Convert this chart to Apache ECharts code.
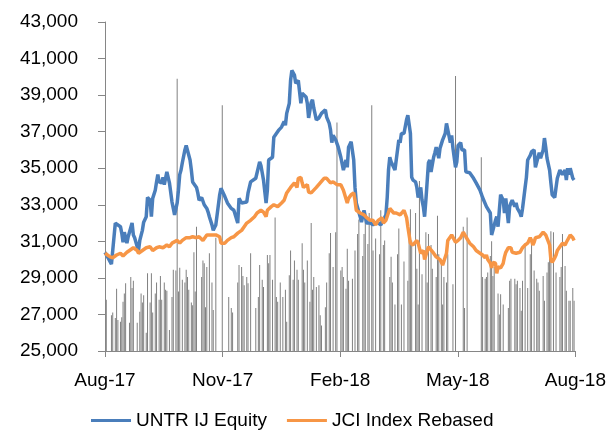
<!DOCTYPE html>
<html lang="en">
<head>
    <meta charset="UTF-8">
    <title>UNTR vs JCI</title>
    <style>
        html, body { margin: 0; padding: 0; background: #fff; }
        #chart { width: 609px; height: 431px; }
    </style>
</head>
<body>
<div id="chart"></div>

<script src="https://cdn.jsdelivr.net/npm/echarts@6/dist/echarts.min.js"></script>
<script>
    // x = days since 1 Aug 2017
    let xTickLabels = ['Aug-17', 'Nov-17', 'Feb-18', 'May-18', 'Aug-18'];

    let untrIJ = [
        [0,30400],[2,30150],[5,29750],[8,32000],[12,31800],[13,31450],[14,30950],[15,31500],[17,30900],[18,31250],
        [21,32000],[22,31350],[23,31200],[25,30700],[26,30500],[27,31050],[29,31600],[30,32050],[31,32150],[32,32350],
        [33,33400],[35,33250],[36,32350],[37,33350],[39,33800],[40,34250],[41,34650],[42,34250],[44,34200],[45,34500],
        [46,34100],[48,34800],[49,34900],[50,34200],[52,33150],[53,32800],[54,32450],[56,33100],[57,33800],[58,34650],
        [59,34900],[60,35300],[62,36000],[63,36250],[66,35450],[67,34900],[68,34250],[69,34350],[71,33950],[72,33650],
        [73,33250],[75,33400],[76,33350],[77,33000],[79,32800],[80,32600],[81,32350],[83,31900],[84,31600],[85,31750],
        [86,31900],[87,31800],[89,33550],[90,33900],[91,33800],[93,33450],[95,33100],[98,32800],[100,32700],[103,32000],
        [104,33350],[106,33100],[110,33150],[111,33650],[113,34250],[117,34450],[118,34500],[120,35350],[121,35150],[122,34750],
        [123,34350],[125,33100],[126,33800],[127,35450],[130,35600],[131,36700],[133,36900],[135,37100],[137,37250],[139,37550],
        [140,37350],[141,38000],[143,38550],[144,39800],[145,40350],[147,40100],[148,39650],[149,39700],[150,39800],[152,38550],
        [153,39100],[154,39150],[156,38900],[157,38550],[158,37750],[160,38600],[161,38750],[162,38300],[164,37650],[166,37750],
        [168,38000],[171,38200],[172,37800],[174,37450],[175,37100],[176,36400],[177,36800],[179,36550],[180,36450],[181,36150],
        [183,35600],[184,35700],[185,34900],[187,35450],[188,35050],[189,36150],[191,36450],[193,35450],[194,33950],[195,33100],
        [198,32350],[199,32050],[201,32700],[202,32350],[203,32000],[206,32000],[208,31900],[211,32050],[214,31900],[216,32150],
        [218,32450],[219,33400],[220,34900],[221,35600],[222,35350],[225,34900],[226,35000],[228,36550],[229,36400],[230,36900],
        [232,36900],[234,37650],[235,37900],[237,36900],[238,34500],[239,34350],[241,34250],[242,33950],[243,33400],[245,33950],
        [246,33250],[247,32900],[248,32350],[249,33250],[251,35300],[252,35450],[253,34800],[255,35600],[256,35850],[257,36150],
        [259,35550],[260,36100],[261,36000],[262,36550],[264,36900],[265,37450],[266,37500],[268,36400],[269,36800],[270,36100],
        [272,35050],[273,35350],[274,36250],[276,36400],[277,36000],[278,35900],[279,36000],[280,34800],[283,34750],[286,34450],
        [288,34200],[291,33800],[293,33400],[296,32900],[297,32800],[299,32550],[300,31350],[301,31600],[303,32150],[304,32350],
        [305,31800],[306,32700],[307,33550],[309,33250],[310,32550],[311,33350],[313,32000],[314,32900],[315,33100],[316,33250],
        [318,32900],[319,33100],[320,32800],[322,32550],[323,32350],[324,32800],[326,33950],[327,34500],[328,35450],[330,35700],
        [331,35900],[332,35850],[333,36000],[334,35050],[336,35600],[337,35850],[338,35550],[340,36000],[341,36650],[342,36150],
        [343,35550],[345,34900],[346,34200],[347,33550],[349,33400],[350,33950],[351,34450],[353,34900],[354,35000],[355,34650],
        [357,34900],[358,34350],[359,35000],[360,34650],[361,35000],[363,34450],[364,34350]
    ];

    let jciRebased = [
        [0,30350],[4,30150],[6,30100],[9,30250],[12,30350],[14,30200],[17,30400],[19,30500],[22,30650],[25,30500],
        [26,30350],[27,30250],[29,30500],[32,30650],[35,30700],[37,30500],[40,30650],[42,30700],[45,30650],[48,30800],
        [50,30700],[52,30900],[56,31050],[57,30950],[58,30900],[60,31050],[63,31200],[66,31200],[68,31250],[71,31200],
        [73,31250],[76,31050],[79,31350],[81,31350],[83,31350],[86,31350],[89,31250],[90,30900],[93,30900],[95,31050],
        [98,31200],[100,31250],[103,31450],[106,31600],[108,31800],[110,32000],[113,32150],[116,32350],[118,32550],[121,32700],
        [123,32600],[125,32350],[126,32700],[129,32900],[131,33000],[134,32900],[137,33100],[139,33250],[141,33650],[144,33950],
        [147,34200],[149,33950],[150,34450],[152,34500],[153,34200],[154,33950],[157,34100],[158,33700],[160,33650],[162,33800],
        [164,33950],[167,34200],[170,34450],[171,34500],[172,34450],[175,34200],[177,34250],[180,34100],[183,34100],[185,33800],
        [188,33100],[189,33350],[191,33550],[193,33650],[194,33250],[195,32700],[198,32550],[201,32450],[203,32300],[206,32150],
        [208,32150],[210,31900],[212,32150],[215,32300],[216,32000],[218,32150],[221,32800],[224,32550],[226,32550],[229,32450],
        [232,32700],[233,32600],[234,32300],[235,31800],[237,30900],[239,30800],[242,31050],[243,30900],[245,30350],[247,30500],
        [248,30000],[251,30700],[252,30700],[255,30350],[257,30150],[260,30000],[262,29700],[265,30350],[266,31050],[269,31350],
        [272,30950],[274,31050],[276,31200],[278,31500],[280,31250],[283,30900],[286,30700],[288,30500],[291,30350],[293,30250],
        [295,30100],[296,30250],[297,30000],[299,29800],[300,29550],[301,29850],[303,29800],[304,29250],[305,29600],[306,29700],
        [307,29550],[309,29800],[310,30150],[311,30400],[313,30650],[314,30700],[315,30650],[316,30400],[319,30350],[322,30400],
        [324,30650],[326,30800],[328,30900],[330,31200],[331,31050],[332,30800],[333,30950],[334,31200],[337,31250],[338,31350],
        [340,31500],[341,31500],[342,31350],[343,31250],[345,30800],[346,30000],[347,29850],[349,30100],[350,30250],[351,30500],
        [353,30700],[354,30800],[355,30900],[357,30800],[358,30950],[360,31200],[361,31350],[363,31200],[364,31050]
    ];

    let volume = [
        [1,27800],[5,26950],[6,27100],[8,26800],[9,28400],[10,26700],[12,26600],[13,26850],[14,27700],[15,28150],
        [16,28700],[19,26550],[20,29050],[21,28450],[22,28850],[25,26550],[27,27150],[28,28150],[29,27650],[30,28050],
        [32,26000],[33,29250],[35,27650],[36,29250],[37,27100],[39,28150],[40,28750],[42,27800],[43,29100],[44,27800],
        [46,28750],[47,28350],[48,28300],[50,26150],[52,27950],[53,29450],[55,29400],[56,39900],[57,28250],[58,29550],
        [60,28900],[62,28750],[63,29450],[64,29050],[65,28350],[67,27650],[68,27500],[69,30400],[70,28250],[71,31800],
        [75,29050],[76,29950],[77,29800],[78,27400],[79,29600],[81,30350],[83,28750],[84,27250],[86,31200],[91,38450],
        [96,27950],[98,27350],[99,27100],[103,28750],[104,29700],[106,29600],[107,29100],[108,28600],[110,29050],[111,28700],
        [113,30350],[117,27350],[119,27950],[120,29700],[122,28900],[123,28500],[126,30250],[127,29800],[128,30250],[130,28900],
        [132,32300],[133,27950],[134,27700],[136,28750],[138,27950],[140,28350],[141,26600],[143,29150],[144,30500],[146,28900],
        [147,29950],[149,29450],[150,28900],[153,30900],[154,29450],[155,28750],[157,29950],[159,27700],[160,32000],[161,28350],
        [162,29050],[164,28500],[166,28600],[167,26950],[168,26400],[171,27400],[172,28750],[174,30350],[175,31450],[177,29600],
        [179,31500],[180,37500],[183,29400],[184,29600],[185,29050],[187,28400],[188,30600],[189,28850],[192,28950],[194,30500],
        [196,31400],[197,32200],[200,30200],[201,31400],[202,32350],[204,30850],[205,32550],[207,38450],[208,30500],[210,31150],
        [213,30300],[214,32700],[216,30800],[217,31050],[221,29050],[222,30150],[223,28750],[225,27550],[227,30300],[228,31700],
        [230,27550],[232,29900],[235,28850],[236,31400],[237,32750],[238,31050],[241,32550],[242,29500],[243,27550],[244,34300],
        [246,29200],[249,31500],[250,28750],[251,31400],[253,30800],[254,29500],[257,29050],[258,32400],[259,30300],[261,29750],
        [262,27550],[263,29050],[265,28750],[266,30300],[270,28650],[272,40050],[278,31800],[279,27350],[281,32300],[292,35600],
        [293,29050],[295,28950],[296,29050],[297,29300],[299,30200],[300,31000],[301,29100],[302,29600],[305,28150],[306,27000],
        [307,28100],[309,27550],[313,27350],[314,28850],[315,28950],[318,28950],[319,28650],[320,28850],[322,28450],[323,27200],
        [324,28850],[326,30900],[328,28450],[330,30300],[331,30850],[333,29400],[335,28950],[336,28750],[337,28300],[340,29100],
        [341,27750],[343,29300],[344,29850],[345,30200],[346,31550],[348,31500],[350,29300],[353,29050],[354,29600],[355,31400],
        [357,29650],[358,28300],[360,27750],[361,27750],[363,28450],[364,27750]
    ];

    let chart = echarts.init(document.getElementById('chart'));

    let font = '"Liberation Sans", Arial, sans-serif';

    let option = {
        animation: false,
        grid: {
            left: 105,
            right: 31,
            top: 22,
            bottom: 80
        },
        legend: {
            data: ['UNTR IJ Equity', 'JCI Index Rebased'],
            left: 86,
            top: 406,
            itemWidth: 40,
            itemHeight: 3,
            itemGap: 20,
            icon: 'rect',
            textStyle: {
                fontFamily: font,
                fontSize: 19,
                color: '#000'
            }
        },
        xAxis: {
            type: 'value',
            min: 0,
            max: 365,
            interval: 91.25,
            splitLine: { show: false },
            axisLine: { lineStyle: { color: '#868686', width: 1 } },
            axisTick: { show: true, length: 6, lineStyle: { color: '#868686' } },
            axisLabel: {
                margin: 20,
                fontFamily: font,
                fontSize: 19,
                color: '#000',
                formatter: function (v) {
                    return xTickLabels[Math.round(v / 91.25)];
                }
            }
        },
        yAxis: {
            type: 'value',
            min: 25000,
            max: 43000,
            interval: 2000,
            splitLine: { show: false },
            axisLine: { show: true, lineStyle: { color: '#868686', width: 1 } },
            axisTick: { show: true, length: 7, lineStyle: { color: '#868686' } },
            axisLabel: {
                margin: 27,
                fontFamily: font,
                fontSize: 19,
                color: '#000',
                formatter: function (v) {
                    return v.toLocaleString('en-US');
                }
            }
        },
        series: [
            {
                name: 'Volume',
                type: 'bar',
                data: volume,
                barWidth: 1,
                itemStyle: { color: '#808080' },
                silent: true
            },
            {
                name: 'UNTR IJ Equity',
                type: 'line',
                data: untrIJ,
                showSymbol: false,
                symbol: 'none',
                lineStyle: { color: '#4a7ebb', width: 3.5 },
                itemStyle: { color: '#4a7ebb' }
            },
            {
                name: 'JCI Index Rebased',
                type: 'line',
                data: jciRebased,
                showSymbol: false,
                symbol: 'none',
                lineStyle: { color: '#f79646', width: 3.5 },
                itemStyle: { color: '#f79646' }
            }
        ]
    };

    chart.setOption(option);
</script>
</body>
</html>
